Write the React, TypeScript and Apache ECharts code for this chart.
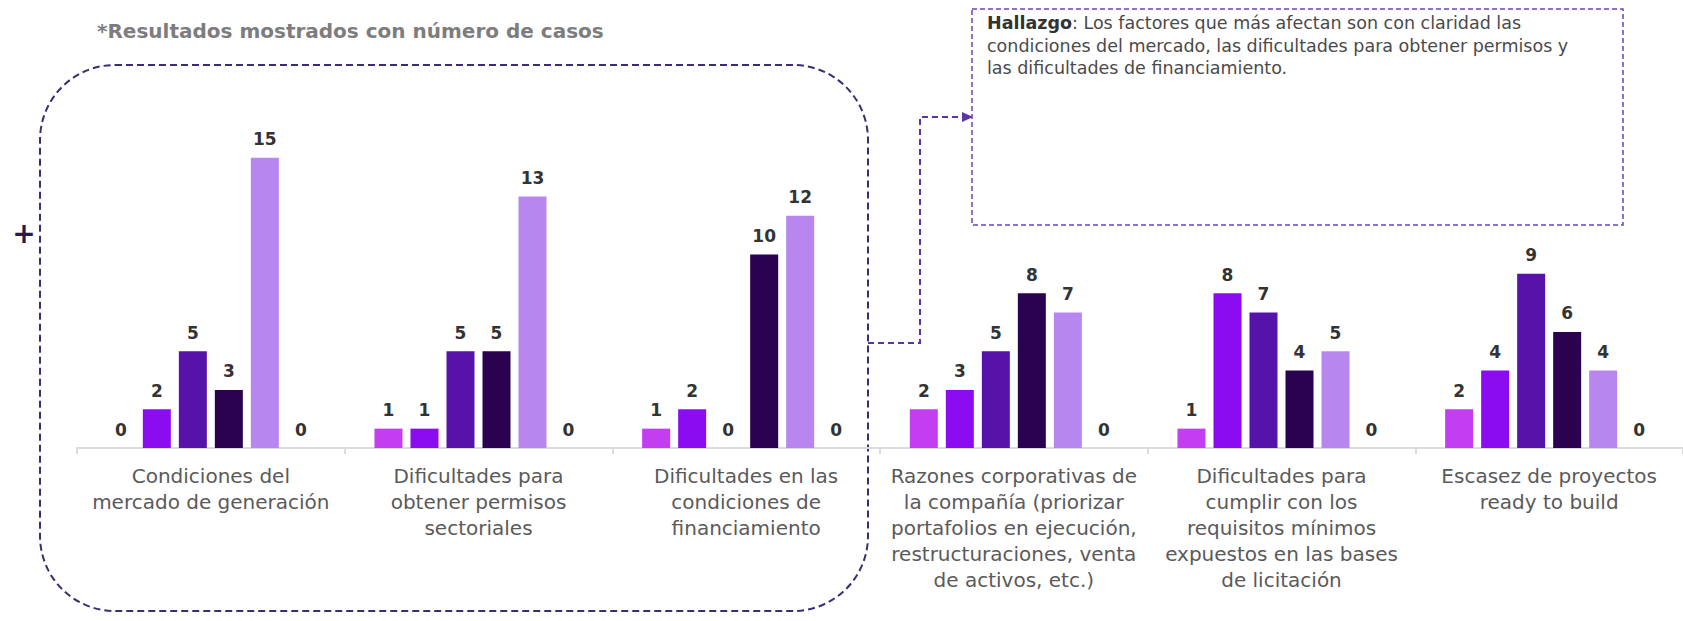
import React, { useEffect, useRef } from "react";
import * as echarts from "echarts";

const categories = [
  "Condiciones del\nmercado de generación",
  "Dificultades para\nobtener permisos\nsectoriales",
  "Dificultades en las\ncondiciones de\nfinanciamiento",
  "Razones corporativas de\nla compañía (priorizar\nportafolios en ejecución,\nrestructuraciones, venta\nde activos, etc.)",
  "Dificultades para\ncumplir con los\nrequisitos mínimos\nexpuestos en las bases\nde licitación",
  "Escasez de proyectos\nready to build",
];

const serie1 = [0, 1, 1, 2, 1, 2];
const serie2 = [2, 1, 2, 3, 8, 4];
const serie3 = [5, 5, 0, 5, 7, 9];
const serie4 = [3, 5, 10, 8, 4, 6];
const serie5 = [15, 13, 12, 7, 5, 4];
const serie6 = [0, 0, 0, 0, 0, 0];

const seriesData = [serie1, serie2, serie3, serie4, serie5, serie6];
const seriesColors = ["#c23ef0", "#8b0cf0", "#5612a9", "#2b0250", "#b787ef", "#d8c3f6"];

const titleText = "*Resultados mostrados con número de casos";
const findingTitle = "Hallazgo";
const findingLines = [
  ": Los factores que más afectan son con claridad las",
  "condiciones del mercado, las dificultades para obtener permisos y",
  "las dificultades de financiamiento.",
];

export default function App() {
  const ref = useRef<HTMLDivElement>(null);

  useEffect(() => {
    document.body.style.margin = "0";
    if (!ref.current) return;
    const chart = echarts.init(ref.current, null, { renderer: "svg" });
    const font = "DejaVu Sans";
    const findingFont = 17.5;
    const findingLH = 22.5;
    const option: any = {
      animation: false,
      backgroundColor: "#ffffff",
      grid: { left: 77, right: -3, top: 61, bottom: 173, containLabel: false },
      xAxis: {
        type: "category",
        data: categories,
        axisLine: { show: true, lineStyle: { color: "#dcdcdc", width: 2 } },
        axisTick: { show: true, length: 6, lineStyle: { color: "#dcdcdc", width: 2 } },
        axisLabel: {
          interval: 0,
          margin: 15,
          fontFamily: font,
          fontSize: 20,
          lineHeight: 26,
          color: "#5a5a5a",
          align: "center",
        },
      },
      yAxis: {
        type: "value",
        min: 0,
        max: 20,
        show: false,
        splitLine: { show: false },
      },
      series: seriesData.map((d, i) => ({
        type: "bar",
        data: d,
        barWidth: 28,
        barGap: "28.6%",
        itemStyle: { color: seriesColors[i] },
        label: {
          show: true,
          position: "top",
          distance: 10,
          fontFamily: font,
          fontWeight: "bold",
          fontSize: 17,
          color: "#333333",
        },
      })),
      graphic: [
        {
          type: "text",
          left: 97,
          top: 21,
          style: {
            text: titleText,
            font: `bold 20px "${font}"`,
            fill: "#7d7d7d",
          },
        },
        {
          type: "text",
          x: 24,
          y: 233,
          style: {
            text: "+",
            font: `bold 28px "${font}"`,
            fill: "#2a1a4a",
            align: "center",
            verticalAlign: "middle",
          },
        },
        {
          type: "rect",
          shape: { x: 40, y: 65, width: 828, height: 546, r: 75 },
          style: { fill: "none", stroke: "#3e2c72", lineWidth: 2, lineDash: [7, 4] },
          silent: true,
        },
        {
          type: "rect",
          shape: { x: 972, y: 9, width: 651, height: 216 },
          style: { fill: "none", stroke: "#6a44b8", lineWidth: 1.5, lineDash: [5, 3] },
          silent: true,
        },
        {
          type: "polyline",
          shape: { points: [[868, 343], [920, 343], [920, 117], [964, 117]] },
          style: { fill: "none", stroke: "#5b34a8", lineWidth: 2, lineDash: [6, 4] },
          silent: true,
        },
        {
          type: "polygon",
          shape: { points: [[973, 117], [962, 112], [962, 122]] },
          style: { fill: "#5b34a8" },
          silent: true,
        },
        {
          type: "text",
          x: 987,
          y: 12,
          style: {
            text:
              "{b|" + findingTitle + "}{n|" + findingLines[0] + "}\n" +
              findingLines.slice(1).map((l) => "{n|" + l + "}").join("\n"),
            verticalAlign: "top",
            align: "left",
            rich: {
              b: { fontWeight: "bold", fontFamily: font, fontSize: findingFont, fill: "#333333", lineHeight: findingLH },
              n: { fontFamily: font, fontSize: findingFont, fill: "#4a4a4a", lineHeight: findingLH },
            },
          },
        },
      ],
    };
    chart.setOption(option);
    return () => chart.dispose();
  }, []);

  return <div ref={ref} style={{ width: 1683, height: 621 }} />;
}
